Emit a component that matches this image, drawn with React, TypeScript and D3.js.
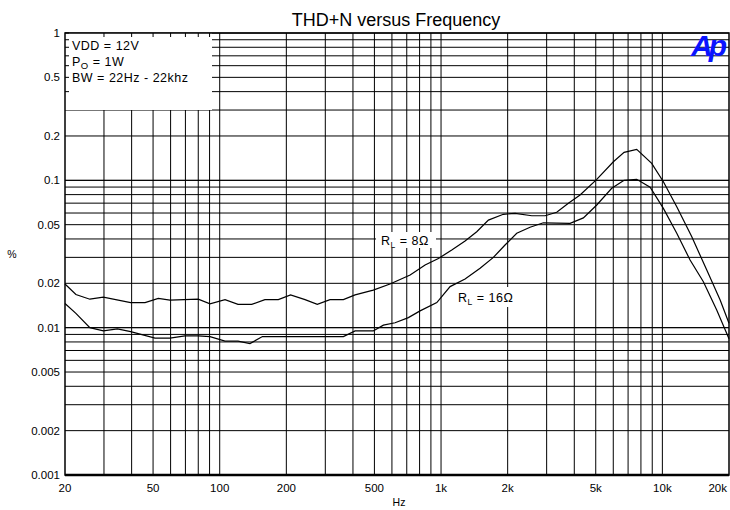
import * as d3 from "d3";

// frequency (Hz) / THD+N (%)
const freq8 = [20, 22.4, 25.9, 29.8, 39.6, 46, 52.8, 59.6, 80, 90.4, 105.7, 121, 139.5, 160, 184, 209, 243, 276, 315, 362, 409, 494, 588, 725, 847, 973, 1118, 1284, 1450, 1637, 1912, 2160, 2570, 2952, 3332, 3761, 4247, 5053, 6007, 6715, 7657, 8950, 10105, 11615, 13580, 15870, 18240, 20000];
const thd8 = [0.0198, 0.0168, 0.0156, 0.0161, 0.0148, 0.0148, 0.0158, 0.0154, 0.0156, 0.0145, 0.0155, 0.0144, 0.0144, 0.0155, 0.0155, 0.0167, 0.0155, 0.0144, 0.0155, 0.0155, 0.0167, 0.018, 0.0198, 0.0228, 0.0266, 0.0295, 0.0336, 0.0387, 0.0448, 0.0537, 0.0588, 0.0597, 0.0575, 0.0575, 0.0607, 0.0698, 0.0795, 0.1016, 0.1337, 0.1549, 0.1622, 0.1304, 0.0978, 0.0662, 0.0414, 0.0246, 0.0154, 0.0107];

const freq16 = [20, 22.4, 25.9, 29.8, 34.5, 39.6, 51, 59.6, 69.7, 80, 90.4, 105.7, 121, 137, 156, 362, 409, 494, 549, 620, 712, 804, 957, 1099, 1284, 1501, 1724, 1946, 2198, 2524, 2900, 3829, 4396, 5053, 5904, 6715, 7657, 8804, 10105, 11615, 13340, 15320, 17600, 20000];
const thd16 = [0.0146, 0.0125, 0.01, 0.0095, 0.0098, 0.0094, 0.0085, 0.0085, 0.0088, 0.0088, 0.0087, 0.0081, 0.0081, 0.0078, 0.0087, 0.0087, 0.0095, 0.0095, 0.0104, 0.0108, 0.0117, 0.013, 0.0148, 0.019, 0.0214, 0.0253, 0.03, 0.0364, 0.0437, 0.048, 0.0515, 0.051, 0.0556, 0.068, 0.0883, 0.1, 0.1016, 0.0897, 0.0645, 0.0437, 0.0288, 0.0205, 0.0132, 0.0084];

const xTicks = [20, 50, 100, 200, 500, 1000, 2000, 5000, 10000, 20000];
const xTickLabels = ["20", "50", "100", "200", "500", "1k", "2k", "5k", "10k", "20k"];
const yTicks = [1, 0.5, 0.2, 0.1, 0.05, 0.02, 0.01, 0.005, 0.002, 0.001];
const yTickLabels = ["1", "0.5", "0.2", "0.1", "0.05", "0.02", "0.01", "0.005", "0.002", "0.001"];

const W = 730;
const H = 510;
const font = "'Liberation Sans', Arial, sans-serif";

const App = () => {
  const x = d3.scaleLog().domain([20, 20000]).range([65, 729]);
  const y = d3.scaleLog().domain([0.001, 1]).range([475, 33]);

  // grid: every 1..9 multiple inside the range, 10k-20k left empty
  const vGrid: number[] = [];
  [10, 100, 1000].forEach((d) => {
    for (let k = 1; k <= 9; k++) {
      const v = d * k;
      if (v > 20 && v <= 10000) vGrid.push(v);
    }
  });
  vGrid.push(10000);
  const hGrid: number[] = [];
  [0.001, 0.01, 0.1].forEach((d) => {
    for (let k = 1; k <= 10; k++) hGrid.push(d * k);
  });

  const line = d3
    .line<[number, number]>()
    .x((d) => x(d[0]))
    .y((d) => y(d[1]));
  const d8 = line(freq8.map((f, i) => [f, thd8[i]]));
  const d16 = line(freq16.map((f, i) => [f, thd16[i]]));

  const [x0, x1] = x.range();
  const [y1, y0] = y.range();

  return (
    <svg width={W} height={H} style={{ position: "absolute", left: 0, top: 0, background: "#fff" }} fontFamily={font}>
      <text x={396} y={26} textAnchor="middle" fontSize={18}>THD+N versus Frequency</text>

      {vGrid.map((v, i) => (
        <line key={"v" + i} x1={x(v)} x2={x(v)} y1={y0} y2={y1} stroke="#000" strokeWidth={1} />
      ))}
      {hGrid.map((v, i) => (
        <line key={"h" + i} x1={x0} x2={x1} y1={y(v)} y2={y(v)} stroke="#000" strokeWidth={1} />
      ))}

      {/* legend box covers the grid, short ticks remain */}
      <rect x={x0} y={y0} width={147} height={77} fill="#fff" />
      {vGrid.filter((v) => x(v) < x0 + 147).map((v, i) => (
        <line key={"tv" + i} x1={x(v)} x2={x(v)} y1={y0} y2={y0 + 4} stroke="#000" />
      ))}
      {hGrid.filter((v) => y(v) < y0 + 77).map((v, i) => (
        <line key={"th" + i} x1={x0} x2={x0 + 4} y1={y(v)} y2={y(v)} stroke="#000" />
      ))}
      <g fontSize={12.5} letterSpacing={0.5}>
        <text x={72} y={50}>VDD = 12V</text>
        <text x={72} y={66}>P<tspan fontSize={9.5} dy={3}>O</tspan><tspan dy={-3}> = 1W</tspan></text>
        <text x={72} y={82}>BW = 22Hz - 22khz</text>
      </g>

      <path d={d8 ?? ""} fill="none" stroke="#000" strokeWidth={1.2} />
      <path d={d16 ?? ""} fill="none" stroke="#000" strokeWidth={1.2} />

      <rect x={376} y={232} width={60} height={16} fill="#fff" />
      <text x={381} y={245} fontSize={12.5} letterSpacing={0.5}>R<tspan fontSize={8.5} dy={3}>L</tspan><tspan dy={-3}> = 8Ω</tspan></text>
      <rect x={455} y={287} width={60} height={20} fill="#fff" />
      <text x={458} y={302} fontSize={12.5} letterSpacing={0.5}>R<tspan fontSize={8.5} dy={3}>L</tspan><tspan dy={-3}> = 16Ω</tspan></text>

      <rect x={x0} y={y0} width={x1 - x0} height={y1 - y0} fill="none" stroke="#000" strokeWidth={1.5} />
      <line x1={x0} x2={x1} y1={y1} y2={y1} stroke="#000" strokeWidth={2.5} />

      <text x={723} y={56} textAnchor="end" fontSize={30} fontWeight="bold" fontStyle="italic" fill="#0a14ff" letterSpacing={-4}>Ap</text>

      <g fontSize={11.5}>
        {yTicks.map((v, i) => (
          <text key={"yl" + i} x={60} y={y(v) + 4} textAnchor="end">{yTickLabels[i]}</text>
        ))}
        {xTicks.map((v, i) => (
          <text key={"xl" + i} x={i === xTicks.length - 1 ? 727 : x(v)} y={492} textAnchor={i === xTicks.length - 1 ? "end" : "middle"}>{xTickLabels[i]}</text>
        ))}
        <text x={399} y={506} textAnchor="middle" fontSize={10.5}>Hz</text>
        <text x={12} y={258} textAnchor="middle" fontSize={10.5}>%</text>
      </g>
    </svg>
  );
};

export default App;
